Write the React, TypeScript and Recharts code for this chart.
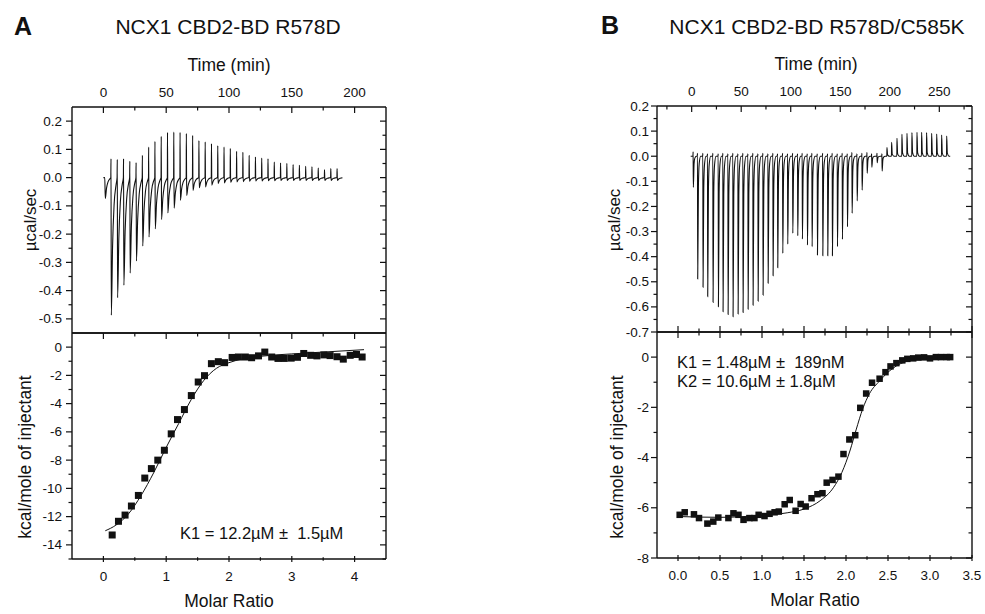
import { ComposedChart, Line, Scatter, XAxis, YAxis } from "recharts";

const FONT = '"Liberation Sans", Arial, Helvetica, sans-serif';
const INK = "#111";

// ---------- Panel A: NCX1 CBD2-BD R578D ----------
// raw thermogram, one entry per injection (time in min, spike heights in µcal/sec)
const A_TIMES = [1.1, 5.9, 10.9, 15.9, 20.9, 25.9, 30.9, 35.9, 40.9, 45.9, 50.9, 55.9, 60.9, 65.9, 70.9, 75.9, 80.9, 85.9, 90.9, 95.9, 100.9, 105.9, 110.9, 115.9, 120.9, 125.9, 130.9, 135.9, 140.9, 145.9, 150.9, 155.9, 160.9, 165.9, 170.9, 175.9, 180.9, 185.9];
const A_UP = [0, 0.067, 0.064, 0.067, 0.058, 0.053, 0.079, 0.108, 0.128, 0.146, 0.16, 0.161, 0.16, 0.156, 0.149, 0.131, 0.126, 0.12, 0.113, 0.108, 0.103, 0.093, 0.09, 0.079, 0.073, 0.069, 0.067, 0.055, 0.052, 0.05, 0.046, 0.044, 0.04, 0.038, 0.034, 0.028, 0.032, 0.032];
const A_DOWN = [-0.074, -0.487, -0.425, -0.381, -0.338, -0.295, -0.242, -0.21, -0.181, -0.148, -0.125, -0.108, -0.08, -0.063, -0.045, -0.036, -0.033, -0.027, -0.021, -0.019, -0.016, -0.015, -0.014, -0.013, -0.012, -0.012, -0.011, -0.011, -0.01, -0.01, -0.01, -0.01, -0.01, -0.01, -0.01, -0.01, -0.01, -0.01];

// integrated heats
const A_RATIO = [0.14, 0.24, 0.345, 0.446, 0.557, 0.659, 0.764, 0.866, 0.971, 1.08, 1.18, 1.29, 1.4, 1.51, 1.61, 1.72, 1.83, 1.93, 2.05, 2.15, 2.26, 2.36, 2.47, 2.57, 2.68, 2.78, 2.88, 2.99, 3.09, 3.19, 3.3, 3.4, 3.51, 3.61, 3.72, 3.82, 3.93, 4.03, 4.12];
const A_HEAT = [-13.3, -12.33, -11.89, -11.25, -10.5, -9.27, -8.6, -8.0, -7.3, -6.14, -5.13, -4.42, -3.43, -2.47, -2.02, -1.17, -1.03, -1.1, -0.73, -0.7, -0.7, -0.75, -0.62, -0.35, -0.7, -0.8, -0.8, -0.78, -0.72, -0.45, -0.58, -0.62, -0.55, -0.6, -0.68, -0.85, -0.58, -0.52, -0.7];
const A_FIT_RATIO = [0.03, 0.2, 0.4, 0.6, 0.8, 1.0, 1.2, 1.4, 1.6, 1.8, 2.0, 2.2, 2.5, 3.0, 3.5, 4.15];
const A_FIT_HEAT = [-13.0, -12.6, -11.8, -10.5, -8.9, -7.1, -5.4, -3.7, -2.35, -1.5, -1.1, -0.85, -0.65, -0.48, -0.35, -0.18];

// ---------- Panel B: NCX1 CBD2-BD R578D/C585K ----------
const B_TIMES = [1.3, 5.7, 11.1, 15.8, 21.2, 26.6, 31.3, 36.4, 41.4, 46.5, 51.5, 56.6, 61.6, 66.7, 71.7, 76.8, 81.8, 86.5, 91.6, 96.6, 101.7, 106.7, 111.4, 116.5, 121.2, 126.6, 132.0, 137.0, 141.7, 146.8, 151.8, 156.9, 161.6, 166.7, 171.7, 176.8, 181.5, 186.9, 191.9, 197.0, 201.7, 207.1, 212.1, 217.2, 222.2, 227.3, 232.0, 237.0, 242.1, 247.2, 252.2, 257.3];
const B_UP = [0.018, 0.012, 0.012, 0.01, 0.012, 0.01, 0.012, 0.01, 0.012, 0.01, 0.012, 0.01, 0.012, 0.01, 0.012, 0.01, 0.012, 0.01, 0.012, 0.01, 0.012, 0.01, 0.012, 0.01, 0.012, 0.01, 0.012, 0.01, 0.012, 0.01, 0.012, 0.01, 0.015, 0.01, 0.012, 0.015, 0.01, 0.012, 0.01, 0.035, 0.055, 0.071, 0.087, 0.091, 0.094, 0.095, 0.095, 0.094, 0.091, 0.088, 0.084, 0.08];
const B_DOWN = [-0.124, -0.489, -0.522, -0.559, -0.582, -0.599, -0.619, -0.63, -0.639, -0.628, -0.622, -0.609, -0.593, -0.577, -0.553, -0.506, -0.476, -0.444, -0.387, -0.35, -0.307, -0.317, -0.33, -0.354, -0.36, -0.393, -0.396, -0.396, -0.396, -0.36, -0.331, -0.281, -0.227, -0.178, -0.135, -0.068, -0.044, -0.026, -0.059, 0, 0, 0, 0, 0, 0, 0, 0, 0, 0, 0, 0, 0];

const B_RATIO = [0.02, 0.08, 0.19, 0.25, 0.35, 0.42, 0.48, 0.6, 0.66, 0.72, 0.78, 0.85, 0.91, 0.96, 1.03, 1.09, 1.15, 1.2, 1.27, 1.33, 1.4, 1.46, 1.52, 1.59, 1.66, 1.72, 1.77, 1.84, 1.91, 1.97, 2.04, 2.11, 2.17, 2.24, 2.31, 2.4, 2.47, 2.53, 2.6, 2.67, 2.73, 2.8, 2.86, 2.93, 3.0, 3.07, 3.13, 3.2, 3.24];
const B_HEAT = [-6.28, -6.18, -6.26, -6.41, -6.63, -6.55, -6.39, -6.41, -6.22, -6.28, -6.48, -6.41, -6.41, -6.28, -6.33, -6.24, -6.18, -6.15, -5.86, -5.69, -6.12, -5.85, -5.95, -5.62, -5.46, -5.42, -5.0, -4.89, -4.76, -3.86, -3.28, -3.11, -2.02, -1.45, -1.02, -0.86, -0.6, -0.37, -0.24, -0.13, -0.07, -0.05, -0.02, -0.01, -0.05, 0, 0, 0, 0];
const B_FIT_RATIO = [0.02, 0.5, 1.0, 1.3, 1.5, 1.7, 1.85, 1.95, 2.05, 2.12, 2.2, 2.28, 2.4, 2.5, 2.6, 2.8, 3.0, 3.25];
const B_FIT_HEAT = [-6.35, -6.38, -6.3, -6.2, -6.05, -5.7, -5.2, -4.6, -3.7, -2.9, -2.05, -1.45, -0.95, -0.6, -0.35, -0.1, -0.03, 0];

// tick values
const A_TIME_TICKS = [0, 25, 50, 75, 100, 125, 150, 175, 200];
const A_RATIO_TICKS = [0, 0.5, 1, 1.5, 2, 2.5, 3, 3.5, 4];
const A_RAW_TICKS = [0.2, 0.15, 0.1, 0.05, 0, -0.05, -0.1, -0.15, -0.2, -0.25, -0.3, -0.35, -0.4, -0.45, -0.5];
const A_HEAT_TICKS = [0, -1, -2, -3, -4, -5, -6, -7, -8, -9, -10, -11, -12, -13, -14, -15];
const B_TIME_TICKS = [-25, 0, 25, 50, 75, 100, 125, 150, 175, 200, 225, 250, 275];
const B_RATIO_TICKS = [0, 0.25, 0.5, 0.75, 1, 1.25, 1.5, 1.75, 2, 2.25, 2.5, 2.75, 3, 3.25, 3.5];
const B_RAW_TICKS = [0.2, 0.15, 0.1, 0.05, 0, -0.05, -0.1, -0.15, -0.2, -0.25, -0.3, -0.35, -0.4, -0.45, -0.5, -0.55, -0.6, -0.65, -0.7];
const B_HEAT_TICKS = [0, -1, -2, -3, -4, -5, -6, -7, -8];

// peak shape of one injection: [minutes after the minimum, fraction of the minimum]
const SLOW_RECOVERY = [[1.0, 0.5], [2.2, 0.2], [3.8, 0.05]];
const FAST_RECOVERY = [[0.7, 0.25], [1.5, 0.06], [3.0, 0]];

function buildTrace(times: number[], up: number[], down: number[], start: number, end: number, recovery: number[][]) {
  const pts: { t: number; v: number }[] = [{ t: start, v: 0 }];
  times.forEach((t, i) => {
    pts.push({ t, v: 0 });
    if (up[i]) pts.push({ t: t + 0.15, v: up[i] });
    if (down[i]) {
      pts.push({ t: t + 0.4, v: down[i] });
      recovery.forEach(([dt, f]) => pts.push({ t: t + 0.4 + dt, v: down[i] * f }));
    } else if (up[i]) {
      pts.push({ t: t + 0.8, v: up[i] * 0.15 });
      pts.push({ t: t + 2.5, v: 0 });
    }
  });
  pts.push({ t: end, v: 0 });
  return pts;
}

const pairs = (xs: number[], ys: number[]) => xs.map((m, i) => ({ m, v: ys[i] }));

const A_TRACE = buildTrace(A_TIMES, A_UP, A_DOWN, 0, 190.3, SLOW_RECOVERY);
const B_TRACE = buildTrace(B_TIMES, B_UP, B_DOWN, -1, 261, FAST_RECOVERY);

type Side = "left" | "right" | "top" | "bottom";
type Dir = "in" | "out" | "both";

function makeTick(side: Side, major: number, labels: boolean, digits: number, dir: Dir, gap = 9) {
  return (props: any) => {
    const { x, y, payload } = props;
    const v = payload.value as number;
    const isMajor = Math.abs(v / major - Math.round(v / major)) < 1e-6;
    const len = isMajor ? 6 : 3.5;
    let x1 = x, x2 = x, y1 = y, y2 = y;
    const horiz = side === "left" || side === "right";
    // sign of "outward" direction
    const out = side === "left" || side === "top" ? -1 : 1;
    if (dir === "both") {
      if (horiz) { x1 = x - len / 2; x2 = x + len / 2; } else { y1 = y - len / 2; y2 = y + len / 2; }
    } else {
      const s = dir === "out" ? out : -out;
      if (horiz) x2 = x + s * len; else y2 = y + s * len;
    }
    let label = null;
    if (labels && isMajor) {
      const txt = v.toFixed(digits);
      if (side === "left")
        label = <text x={x - gap} y={y} textAnchor="end" dominantBaseline="central">{txt}</text>;
      else if (side === "top")
        label = <text x={x} y={y - 15} textAnchor="middle" dominantBaseline="central">{txt}</text>;
      else if (side === "bottom")
        label = <text x={x} y={y + 17.5} textAnchor="middle" dominantBaseline="central">{txt}</text>;
    }
    return (
      <g fontFamily={FONT} fontSize={13.5} fill={INK}>
        <line x1={x1} y1={y1} x2={x2} y2={y2} stroke={INK} strokeWidth={1.2} />
        {label}
      </g>
    );
  };
}

const AXIS_LINE = { stroke: INK, strokeWidth: 1.4 };
const common = { tickLine: false, tickSize: 0, tickMargin: 0, interval: 0 as const, axisLine: AXIS_LINE, allowDataOverflow: true };

type FrameProps = {
  left: number; top: number; w: number; h: number;
  pad: { l: number; t: number; r: number; b: number };
  xTop: { key: string; domain: number[]; ticks: number[]; tick: any };
  xBottom: { key: string; domain: number[]; ticks: number[]; tick: any };
  yDomain: number[]; yTicks: number[]; yTick: any; yRightTick: any;
  children: any;
};

function Frame({ left, top, w, h, pad, xTop, xBottom, yDomain, yTicks, yTick, yRightTick, children }: FrameProps) {
  return (
    <div style={{ position: "absolute", left: left - pad.l, top: top - pad.t }}>
      <ComposedChart width={w + pad.l + pad.r} height={h + pad.t + pad.b} margin={{ top: 0, left: 0, right: 0, bottom: 0 }}>
        <XAxis xAxisId="top" orientation="top" type="number" dataKey={xTop.key} domain={xTop.domain} ticks={xTop.ticks} tick={xTop.tick} height={pad.t} {...common} />
        <XAxis xAxisId="bottom" orientation="bottom" type="number" dataKey={xBottom.key} domain={xBottom.domain} ticks={xBottom.ticks} tick={xBottom.tick} height={pad.b} {...common} />
        <YAxis yAxisId="left" orientation="left" type="number" dataKey="v" domain={yDomain} ticks={yTicks} tick={yTick} width={pad.l} {...common} />
        <YAxis yAxisId="right" orientation="right" type="number" dataKey="v" domain={yDomain} ticks={yTicks} tick={yRightTick} width={pad.r} {...common} />
        {children}
      </ComposedChart>
    </div>
  );
}

const square = (size: number) => (p: any) => (
  <rect x={p.cx - size / 2} y={p.cy - size / 2} width={size} height={size} fill={INK} />
);

const T = { fontFamily: FONT, fill: INK };

export default function App() {
  const padTop = { l: 50, t: 40, r: 12, b: 12 };
  const padBottom = { l: 50, t: 12, r: 12, b: 40 };
  return (
    <div style={{ position: "absolute", left: 0, top: 0, width: 985, height: 614, background: "#fff", overflow: "hidden" }}>
      {/* A: raw heat */}
      <Frame left={72} top={107} w={314} h={226} pad={padTop}
        xTop={{ key: "t", domain: [-25, 225], ticks: A_TIME_TICKS, tick: makeTick("top", 50, true, 0, "in") }}
        xBottom={{ key: "m", domain: [-0.5, 4.5], ticks: [], tick: makeTick("bottom", 1, false, 0, "in") }}
        yDomain={[-0.55, 0.25]} yTicks={A_RAW_TICKS}
        yTick={makeTick("left", 0.1, true, 1, "out", 10)} yRightTick={makeTick("right", 0.1, false, 1, "in")}>
        <Line xAxisId="top" yAxisId="left" data={A_TRACE} dataKey="v" type="monotone" stroke={INK} strokeWidth={1.1} dot={false} isAnimationActive={false} />
      </Frame>
      {/* A: integrated heat */}
      <Frame left={72} top={333} w={314} h={226} pad={padBottom}
        xTop={{ key: "m", domain: [-0.5, 4.5], ticks: A_RATIO_TICKS, tick: makeTick("top", 1, false, 0, "in") }}
        xBottom={{ key: "m", domain: [-0.5, 4.5], ticks: A_RATIO_TICKS, tick: makeTick("bottom", 1, true, 0, "both") }}
        yDomain={[-15, 1]} yTicks={A_HEAT_TICKS}
        yTick={makeTick("left", 2, true, 0, "out", 10)} yRightTick={makeTick("right", 2, false, 0, "in")}>
        <Line xAxisId="bottom" yAxisId="left" data={pairs(A_FIT_RATIO, A_FIT_HEAT)} dataKey="v" type="monotone" stroke={INK} strokeWidth={1} dot={false} isAnimationActive={false} />
        <Scatter xAxisId="bottom" yAxisId="left" data={pairs(A_RATIO, A_HEAT)} dataKey="v" shape={square(7)} isAnimationActive={false} />
      </Frame>

      {/* B: raw heat */}
      <Frame left={657} top={106} w={315} h={226} pad={padTop}
        xTop={{ key: "t", domain: [-35, 283], ticks: B_TIME_TICKS, tick: makeTick("top", 50, true, 0, "in") }}
        xBottom={{ key: "m", domain: [-0.25, 3.5], ticks: B_RATIO_TICKS, tick: makeTick("bottom", 0.5, false, 1, "in") }}
        yDomain={[-0.7, 0.2]} yTicks={B_RAW_TICKS}
        yTick={makeTick("left", 0.1, true, 1, "out", 8)} yRightTick={makeTick("right", 0.1, false, 1, "in")}>
        <Line xAxisId="top" yAxisId="left" data={B_TRACE} dataKey="v" type="monotone" stroke={INK} strokeWidth={1.1} dot={false} isAnimationActive={false} />
      </Frame>
      {/* B: integrated heat */}
      <Frame left={657} top={332} w={315} h={226} pad={padBottom}
        xTop={{ key: "m", domain: [-0.25, 3.5], ticks: B_RATIO_TICKS, tick: makeTick("top", 0.5, false, 1, "in") }}
        xBottom={{ key: "m", domain: [-0.25, 3.5], ticks: B_RATIO_TICKS, tick: makeTick("bottom", 0.5, true, 1, "both") }}
        yDomain={[-8, 1]} yTicks={B_HEAT_TICKS}
        yTick={makeTick("left", 2, true, 0, "out", 8)} yRightTick={makeTick("right", 2, false, 0, "in")}>
        <Line xAxisId="bottom" yAxisId="left" data={pairs(B_FIT_RATIO, B_FIT_HEAT)} dataKey="v" type="monotone" stroke={INK} strokeWidth={1} dot={false} isAnimationActive={false} />
        <Scatter xAxisId="bottom" yAxisId="left" data={pairs(B_RATIO, B_HEAT)} dataKey="v" shape={square(6.5)} isAnimationActive={false} />
      </Frame>

      {/* titles and axis labels */}
      <svg width={985} height={614} style={{ position: "absolute", left: 0, top: 0, pointerEvents: "none" }}>
        <g {...T}>
          <text x={23} y={26} fontSize={25} fontWeight="bold" textAnchor="middle" dominantBaseline="central">A</text>
          <text x={228} y={26} fontSize={21} textAnchor="middle" dominantBaseline="central">NCX1 CBD2-BD R578D</text>
          <text x={229} y={65} fontSize={17.5} textAnchor="middle" dominantBaseline="central">Time (min)</text>
          <text transform="translate(30,220) rotate(-90)" fontSize={17} textAnchor="middle" dominantBaseline="central">µcal/sec</text>
          <text transform="translate(25,457) rotate(-90)" fontSize={17.5} textAnchor="middle" dominantBaseline="central">kcal/mole of injectant</text>
          <text x={229} y={601} fontSize={17.5} textAnchor="middle" dominantBaseline="central">Molar Ratio</text>
          <text x={180} y={533} fontSize={16.5} dominantBaseline="central" style={{ whiteSpace: "pre" }}>K1 = 12.2µM ±  1.5µM</text>

          <text x={610} y={25} fontSize={25} fontWeight="bold" textAnchor="middle" dominantBaseline="central">B</text>
          <text x={817} y={26} fontSize={21} textAnchor="middle" dominantBaseline="central">NCX1 CBD2-BD R578D/C585K</text>
          <text x={816} y={64} fontSize={17.5} textAnchor="middle" dominantBaseline="central">Time (min)</text>
          <text transform="translate(614,220) rotate(-90)" fontSize={17} textAnchor="middle" dominantBaseline="central">µcal/sec</text>
          <text transform="translate(617,457) rotate(-90)" fontSize={17.5} textAnchor="middle" dominantBaseline="central">kcal/mole of injectant</text>
          <text x={815} y={600} fontSize={17.5} textAnchor="middle" dominantBaseline="central">Molar Ratio</text>
          <text x={677} y={362} fontSize={16.5} dominantBaseline="central" style={{ whiteSpace: "pre" }}>K1 = 1.48µM ±  189nM</text>
          <text x={677} y={381} fontSize={16.5} dominantBaseline="central" style={{ whiteSpace: "pre" }}>K2 = 10.6µM ± 1.8µM</text>
        </g>
      </svg>
    </div>
  );
}
